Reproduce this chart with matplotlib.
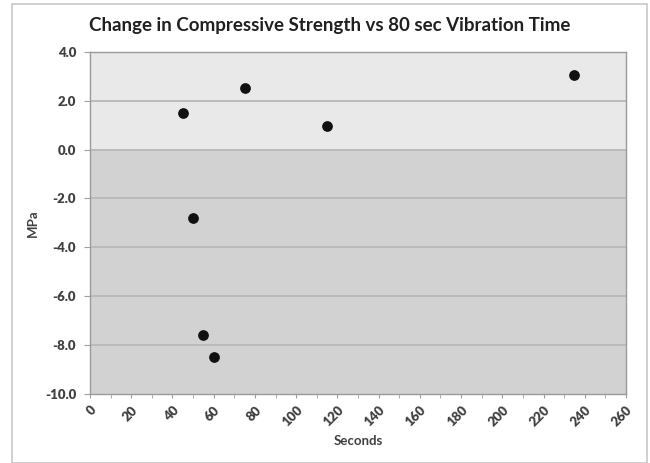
import matplotlib
matplotlib.use('Agg')
import matplotlib.pyplot as plt
import numpy as np
from matplotlib.patches import Rectangle

# data
seconds = [45, 50, 55, 60, 75, 115, 235]
mpa = [1.5, -2.8, -7.6, -8.5, 2.5, 0.95, 3.05]

xticks = np.arange(0, 261, 20)
yticks = np.arange(-10, 4.1, 2)

plt.rcParams['font.family'] = ['Lato', 'DejaVu Sans']

fig = plt.figure(figsize=(6.5, 4.63), dpi=100)
ax = fig.add_axes([0.1385, 0.149, 0.8245, 0.7393])

# outer chart frame
fig.patches.append(Rectangle((12/650, 0.0), 635/650, 1 - 4/463, transform=fig.transFigure,
                             fill=False, edgecolor='#c8c8c8', linewidth=1.2))

ax.axhspan(0, 4, color='#e9e9e9', zorder=0)
ax.axhspan(-10, 0, color='#d2d2d2', zorder=0)
for y in yticks[1:-1]:
    ax.axhline(y, color='#b8b8b8', linewidth=1.3, zorder=1)

ax.scatter(seconds, mpa, s=45, color='#111111', zorder=3)

ax.set_xlim(0, 260)
ax.set_ylim(-10, 4)
ax.set_xticks(xticks)
ax.set_xticks(np.arange(0, 261, 10), minor=True)
ax.set_yticks(yticks)
ax.set_yticklabels(['%.1f' % v for v in yticks])
ax.set_xticklabels([str(v) for v in xticks], rotation=45, ha='right', va='top',
                   rotation_mode='anchor')

for lab in ax.get_xticklabels() + ax.get_yticklabels():
    lab.set_fontweight('heavy')
    lab.set_fontsize(9.5)
    lab.set_color('#404040')

ax.tick_params(axis='x', which='both', length=3, color='#a0a0a0', pad=4)
ax.tick_params(axis='y', length=4, color='#a0a0a0', pad=6)
for s in ax.spines.values():
    s.set_color('#9a9a9a')
    s.set_linewidth(1)

fig.text(330/650, 1 - 25/463, 'Change in Compressive Strength vs 80 sec Vibration Time',
         fontsize=13.5, fontweight='bold', color='#202020', ha='center', va='center')
ax.set_xlabel('Seconds', fontsize=9.5, fontweight='bold', color='#404040', labelpad=5)
ax.set_ylabel('MPa', fontsize=9.5, fontweight='bold', color='#404040', labelpad=4)

fig.savefig('out.png', dpi=100)
